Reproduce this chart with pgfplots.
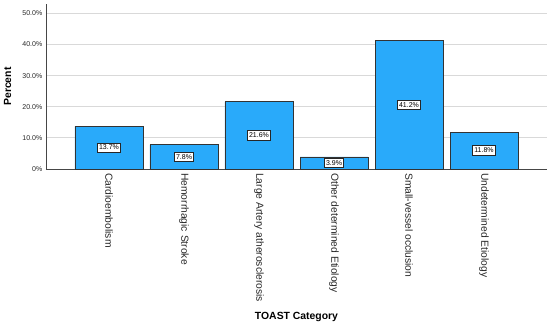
\documentclass[border=0pt]{standalone}
\usepackage{pgfplots}
\pgfplotsset{compat=1.18}
\usepackage{pgfplotstable}
\usepackage{fontspec}
\setmainfont{Liberation Sans}
\definecolor{barblue}{RGB}{41,170,250}
\definecolor{gridgray}{RGB}{217,217,217}
\definecolor{axisgray}{RGB}{70,70,70}

\pgfplotstableread{
x y label
0 13.7 13.7\%
1 7.8 7.8\%
2 21.6 21.6\%
3 3.9 3.9\%
4 41.2 41.2\%
5 11.8 11.8\%
}\data

\begin{document}
\begin{tikzpicture}
\useasboundingbox (-46bp,-157bp) rectangle (504bp,169bp);
\begin{axis}[
  at={(0,0)}, anchor=south west,
  scale only axis, width=501bp, height=165bp,
  xmin=-0.84, xmax=5.84, ymin=0, ymax=53,
  axis x line*=bottom, axis y line*=left,
  axis line style={axisgray, line width=0.8bp},
  ybar, bar width=68bp,
  xtick={0,1,2,3,4,5},
  xticklabels={Cardioembolism,Hemorrhagic Stroke,Large Artery atherosclerosis,Other determined Etiology,Small-vessel occlusion,Undetermined Etiology},
  ytick={0,10,20,30,40,50},
  yticklabels={0\%,10.0\%,20.0\%,30.0\%,40.0\%,50.0\%},
  major tick length=0pt,
  ymajorgrids, grid style={gridgray, line width=1bp},
  xticklabel style={rotate=-90, anchor=west, inner sep=0pt, inner xsep=4bp, font=\fontsize{10.3bp}{12bp}\selectfont, text=black!85},
  yticklabel style={anchor=east, inner sep=0pt, inner xsep=3.5bp, font=\fontsize{7bp}{8bp}\selectfont, text=black!85},
  xlabel={TOAST Category},
  ylabel={Percent},
  xlabel style={at={(axis description cs:0.5,-0.897)}, anchor=center, font=\bfseries\fontsize{10.4bp}{12bp}\selectfont},
  ylabel style={at={(axis description cs:-0.0768,0.5)}, anchor=center, font=\bfseries\fontsize{10.4bp}{12bp}\selectfont},
]
\addplot[fill=barblue, draw=black!80, line width=0.6bp,
  point meta=explicit symbolic,
  nodes near coords,
  visualization depends on={\thisrow{y} \as \rawy},
  every node near coord/.append style={anchor=center, fill=white, draw=black!85, line width=0.7bp, inner xsep=1.8bp, inner ysep=1.8bp, text height=5.2bp, text depth=0.8bp, font=\fontsize{7bp}{8bp}\selectfont, yshift={-\rawy*1.5566bp}}
] table[x=x, y=y, meta=label] {\data};
\end{axis}
\end{tikzpicture}
\end{document}
